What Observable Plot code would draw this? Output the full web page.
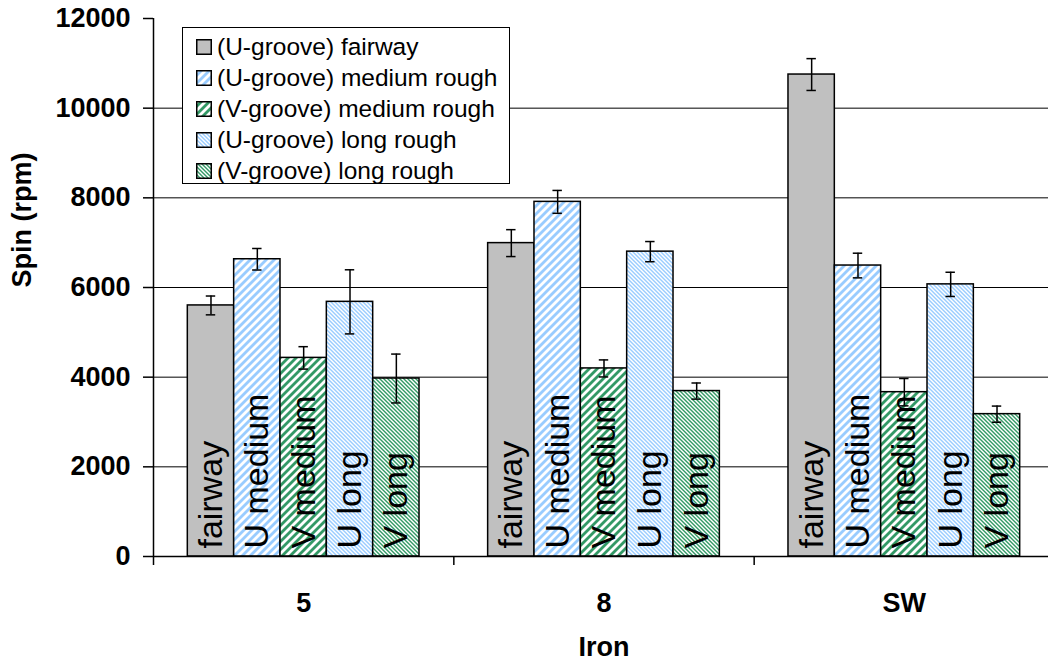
<!DOCTYPE html>
<html>
<head>
<meta charset="utf-8">
<script src="https://cdn.jsdelivr.net/npm/d3@7"></script>
<script src="https://cdn.jsdelivr.net/npm/@observablehq/plot@0.6"></script>
<style>
  html, body { margin: 0; padding: 0; background: white; }
  #wrap { position: relative; width: 1048px; height: 661px; overflow: hidden; font-family: "Liberation Sans", Arial, sans-serif; }
  #legend { position: absolute; left: 182px; top: 27px; width: 328px; height: 157px; border: 1.5px solid black; background: white; box-sizing: border-box; }
  .row { position: absolute; left: 0; height: 31px; display: flex; align-items: center; white-space: nowrap; font-size: 24.5px; color: black; }
  .row svg { margin-left: 13px; margin-right: 5px; }
</style>
</head>
<body>
<div id="wrap"><div id="legend"></div></div>
<script>
// ---- data ----
const irons = ["5", "8", "SW"];
const seriesNames = [
  "(U-groove) fairway",
  "(U-groove) medium rough",
  "(V-groove) medium rough",
  "(U-groove) long rough",
  "(V-groove) long rough"
];
const barLabels = ["fairway", "U medium", "V medium", "U long", "V long"];
const fairway  = [5600, 6990, 10750];
const uMedium  = [6630, 7910, 6490];
const vMedium  = [4430, 4195, 3665];
const uLong    = [5680, 6800, 6070];
const vLong    = [3970, 3690, 3175];
const fairwayErr = [210, 300, 355];
const uMediumErr = [240, 255, 275];
const vMediumErr = [250, 190, 305];
const uLongErr   = [715, 225, 270];
const vLongErr   = [545, 180, 180];
const yTicks = [0, 2000, 4000, 6000, 8000, 10000, 12000];

const values = [fairway, uMedium, vMedium, uLong, vLong];
const errors = [fairwayErr, uMediumErr, vMediumErr, uLongErr, vLongErr];
const fills = ["#c0c0c0", "url(#medU)", "url(#medV)", "url(#longU)", "url(#longV)"];

const barW = 0.1543;      // bar width in category units
const capHalf = 0.0157;   // error cap half width in category units

const rows = irons.flatMap((iron, gi) => seriesNames.map((s, si) => {
  const c = gi + 0.5 + (si - 2) * barW;
  return {iron, gi, si, series: s, label: barLabels[si], value: values[si][gi], err: errors[si][gi],
          x1: c - barW / 2, x2: c + barW / 2, xc: c};
}));

const font = "Liberation Sans, Arial, sans-serif";

const plot = Plot.plot({
  width: 1048,
  height: 661,
  marginLeft: 153,
  marginRight: 0,
  marginTop: 18,
  marginBottom: 105,
  x: {domain: [0, 3], range: [153, 1054]},
  y: {domain: [0, 12000]},
  style: {fontFamily: font, color: "black", background: "white"},
  marks: [
    Plot.gridY(yTicks.filter(t => t > 0 && t < 12000), {stroke: "black", strokeOpacity: 1, strokeWidth: 1}),
    ...seriesNames.map((s, si) => Plot.rectY(rows.filter(r => r.si === si), {
      x1: "x1", x2: "x2", y1: 0, y2: "value",
      fill: fills[si], stroke: "black", strokeWidth: 1.5
    })),
    Plot.text(rows, {
      x: "xc", y: 0, text: "label", rotate: -90, textAnchor: "start",
      fontSize: 34, fill: "black", dy: -8
    }),
    Plot.ruleX(rows, {x: "xc", y1: d => d.value - d.err, y2: d => d.value + d.err, stroke: "black", strokeWidth: 1.5}),
    Plot.ruleY(rows, {y: d => d.value - d.err, x1: d => d.xc - capHalf, x2: d => d.xc + capHalf, stroke: "black", strokeWidth: 1.5}),
    Plot.ruleY(rows, {y: d => d.value + d.err, x1: d => d.xc - capHalf, x2: d => d.xc + capHalf, stroke: "black", strokeWidth: 1.5}),
    Plot.ruleY([0], {stroke: "black", strokeWidth: 1.5}),
    Plot.ruleX([0], {y1: 0, y2: 12000, stroke: "black", strokeWidth: 1.5}),
    Plot.axisY({ticks: yTicks, tickSize: 10, tickPadding: 13, tickFormat: d3.format("d"), fontSize: 27, fontWeight: "bold", label: null, strokeWidth: 1.5}),
    Plot.axisX({ticks: [0, 1, 2, 3], tickSize: 9, tickFormat: () => "", label: null, strokeWidth: 1.5}),
    Plot.axisX({ticks: [0.5, 1.5, 2.5], tickSize: 0, tickPadding: 36, tickFormat: t => irons[Math.floor(t)], fontSize: 27, fontWeight: "bold", label: null}),
    Plot.text(["Iron"], {x: 1.5, frameAnchor: "bottom", lineAnchor: "middle", dy: 91, text: d => d, fontSize: 27, fontWeight: "bold"}),
    Plot.text(["Spin (rpm)"], {y: 6000, frameAnchor: "left", dx: -131, rotate: -90, text: d => d, fontSize: 27, fontWeight: "bold"})
  ]
});

// pattern definitions
const ns = "http://www.w3.org/2000/svg";
const defs = document.createElementNS(ns, "defs");
defs.innerHTML = `
  <pattern id="medU" width="8" height="8" patternUnits="userSpaceOnUse">
    <rect width="8" height="8" fill="white"/>
    <polygon points="4,0 8,0 0,8 0,4" fill="#99ccff"/>
    <polygon points="8,4 8,8 4,8" fill="#99ccff"/>
  </pattern>
  <pattern id="medV" width="8" height="8" patternUnits="userSpaceOnUse">
    <rect width="8" height="8" fill="white"/>
    <polygon points="4,0 8,0 0,8 0,4" fill="#339966"/>
    <polygon points="8,4 8,8 4,8" fill="#339966"/>
  </pattern>
  <pattern id="longU" width="4" height="4" patternUnits="userSpaceOnUse">
    <rect width="4" height="4" fill="white"/>
    <polygon points="0,0 2,0 4,2 4,4" fill="#99ccff"/>
    <polygon points="0,2 2,4 0,4" fill="#99ccff"/>
  </pattern>
  <pattern id="longV" width="4" height="4" patternUnits="userSpaceOnUse">
    <rect width="4" height="4" fill="white"/>
    <polygon points="0,0 2,0 4,2 4,4" fill="#339966"/>
    <polygon points="0,2 2,4 0,4" fill="#339966"/>
  </pattern>`;
plot.insertBefore(defs, plot.firstChild);

const wrap = document.getElementById("wrap");
wrap.insertBefore(plot, wrap.firstChild);

// legend
const legend = document.getElementById("legend");
seriesNames.forEach((s, i) => {
  const row = document.createElement("div");
  row.className = "row";
  row.style.top = (3 + i * 31) + "px";
  row.innerHTML = `<svg width="16" height="16"><rect x="0.75" y="0.75" width="14.5" height="14.5" fill="${fills[i]}" stroke="black" stroke-width="1.5"/></svg><span>${s}</span>`;
  legend.appendChild(row);
});
</script>
</body>
</html>
